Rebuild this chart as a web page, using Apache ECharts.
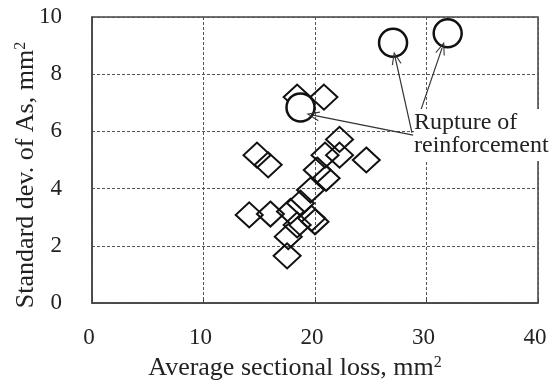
<!DOCTYPE html>
<html>
<head>
<meta charset="utf-8">
<script src="https://cdn.jsdelivr.net/npm/echarts@6/dist/echarts.min.js"></script>
<style>html,body{margin:0;padding:0;background:#fff}#c{width:553px;height:381px}</style>
</head>
<body>
<div id="c"></div>
<script>
// Diamonds: average sectional loss (mm2), standard deviation of As (mm2)
const diamondX = [18.4, 20.8, 14.8, 15.8, 22.2, 24.6, 22.2, 20.9, 20.2, 21.0, 19.6, 14.1, 16.0, 17.8, 18.7, 19.7, 20.0, 18.4, 17.6, 17.5];
const diamondY = [7.2, 7.2, 5.17, 4.83, 5.72, 5.0, 5.17, 5.17, 4.65, 4.36, 3.95, 3.08, 3.11, 3.2, 3.49, 2.96, 2.84, 2.73, 2.32, 1.65];
// Circles: rupture of reinforcement
const circleX = [18.7, 27.0, 31.9];
const circleY = [6.84, 9.1, 9.43];
const xTicks = [0, 10, 20, 30, 40];
const yTicks = [0, 2, 4, 6, 8, 10];
// annotation arrows: [from, to] in data coordinates
const arrows = [
  [[28.8, 5.87], [19.8, 6.57]],
  [[28.7, 5.95], [27.2, 8.57]],
  [[29.4, 6.64], [31.4, 8.92]]
];
const noteText = 'Rupture of\nreinforcement';

const F = '"Liberation Serif", "DejaVu Serif", serif';
const chart = echarts.init(document.getElementById('c'), null, {renderer: 'canvas'});
const dashed = {show: true, lineStyle: {color: '#555', width: 1, type: [3, 2]}};
chart.setOption({
  animation: false,
  grid: {left: 92, right: 15, top: 17, bottom: 78, containLabel: false, outerBoundsMode: 'none',
    show: true, borderColor: '#444', borderWidth: 1.5, backgroundColor: 'transparent'},
  xAxis: {
    type: 'value', min: xTicks[0], max: xTicks[xTicks.length - 1], interval: 10,
    axisLine: {show: true, lineStyle: {color: '#444', width: 1.5}},
    axisTick: {show: true, inside: true, length: 5, lineStyle: {color: '#444'}},
    axisLabel: {fontFamily: F, fontSize: 23, color: '#222', margin: 23, padding: [0, 6, 0, 0]},
    splitLine: dashed,
    name: '{a|Average sectional loss, mm}{s|2}', nameLocation: 'middle', nameGap: 52, nameMoveOverlap: false,
    nameTextStyle: {padding: [0, 40, 0, 0], rich: {
      a: {fontFamily: F, fontSize: 26, color: '#222'},
      s: {fontFamily: F, fontSize: 16, color: '#222', verticalAlign: 'top'}
    }}
  },
  yAxis: {
    type: 'value', min: yTicks[0], max: yTicks[yTicks.length - 1], interval: 2,
    axisLine: {show: true, lineStyle: {color: '#444', width: 1.5}},
    axisTick: {show: false},
    axisLabel: {fontFamily: F, fontSize: 23, color: '#222', margin: 30},
    splitLine: dashed,
    name: '{a|Standard dev. of As, mm}{s|2}', nameLocation: 'middle', nameGap: 53, nameMoveOverlap: false,
    nameTextStyle: {padding: [0, 30, 0, 0], rich: {
      a: {fontFamily: F, fontSize: 26, color: '#222'},
      s: {fontFamily: F, fontSize: 16, color: '#222', verticalAlign: 'top'}
    }}
  },
  series: [
    {
      type: 'scatter', symbol: 'diamond', symbolSize: [27, 25],
      itemStyle: {color: 'transparent', borderColor: '#111', borderWidth: 2, opacity: 1},
      data: diamondX.map((x, i) => [x, diamondY[i]])
    },
    {
      type: 'scatter', symbol: 'circle', symbolSize: 28,
      itemStyle: {color: '#fff', borderColor: '#111', borderWidth: 2.5, opacity: 1},
      data: circleX.map((x, i) => [x, circleY[i]]),
      markLine: {
        silent: true, animation: false,
        symbol: ['none', 'path://M5,0 L10,12 L8.8,12 L5,2.6 L1.2,12 L0,12 Z'],
        symbolSize: [10, 13],
        label: {show: false},
        lineStyle: {color: '#333', width: 1.2, type: 'solid'},
        data: arrows.map(a => [{coord: a[0]}, {coord: a[1]}])
      }
    }
  ],
  graphic: [
    {type: 'rect', shape: {x: 414, y: 109, width: 139, height: 52}, style: {fill: '#fff'}, z: 50},
    {type: 'text', x: 414, y: 111, z: 51, style: {text: noteText, font: '24px ' + F, fill: '#222', lineHeight: 23}}
  ]
});
</script>
</body>
</html>
